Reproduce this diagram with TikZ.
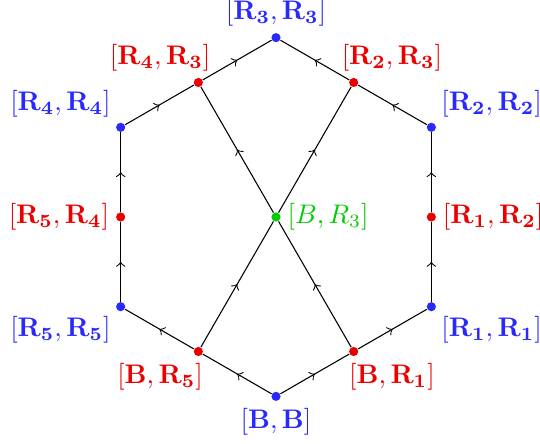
\documentclass[tikz,border=0pt]{standalone}
\usepackage{amsmath}
\usetikzlibrary{decorations.markings}
\definecolor{pblue}{RGB}{40,40,255}
\definecolor{pred}{RGB}{235,0,0}
\definecolor{pgreen}{RGB}{0,205,0}

\begin{document}
\begin{tikzpicture}[
  every label/.style={inner sep=2.2pt},
  dot/.style={circle, fill=#1, inner sep=0pt, minimum size=3.4pt},
  bdot/.style={dot=pblue},
  rdot/.style={dot=pred},
  flow/.style={postaction={decorate},
               decoration={markings, mark=at position 0.5 with {\arrow{>}}}},
]
\useasboundingbox (-3.607, -2.955) rectangle (3.45, 2.836);
% diagonal pairs
\node[bdot, label={[pblue]above:$[\mathbf{R_3},\mathbf{R_3}]$}] (r3r3) at (0, 2.344) {};
\node[bdot, label={[pblue]above left:$[\mathbf{R_4},\mathbf{R_4}]$}] (r4r4) at (-2.03, 1.172) {};
\node[bdot, label={[pblue]above right:$[\mathbf{R_2},\mathbf{R_2}]$}] (r2r2) at (2.03, 1.172) {};
\node[bdot, label={[pblue]below left:$[\mathbf{R_5},\mathbf{R_5}]$}] (r5r5) at (-2.03, -1.172) {};
\node[bdot, label={[pblue]below right:$[\mathbf{R_1},\mathbf{R_1}]$}] (r1r1) at (2.03, -1.172) {};
\node[bdot, label={[pblue]below:$[\mathbf{B},\mathbf{B}]$}] (bb) at (0, -2.344) {};
% mixed pairs
\node[rdot, label={[pred, xshift=-5mm]above:$[\mathbf{R_4},\mathbf{R_3}]$}] (r4r3) at (-1.015, 1.758) {};
\node[rdot, label={[pred, xshift=5mm]above:$[\mathbf{R_2},\mathbf{R_3}]$}] (r2r3) at (1.015, 1.758) {};
\node[rdot, label={[pred]left:$[\mathbf{R_5},\mathbf{R_4}]$}] (r5r4) at (-2.03, 0) {};
\node[rdot, label={[pred]right:$[\mathbf{R_1},\mathbf{R_2}]$}] (r1r2) at (2.03, 0) {};
\node[rdot, label={[pred, xshift=-5mm]below:$[\mathbf{B},\mathbf{R_5}]$}] (br5) at (-1.015, -1.758) {};
\node[rdot, label={[pred, xshift=5mm]below:$[\mathbf{B},\mathbf{R_1}]$}] (br1) at (1.015, -1.758) {};
% crossing point
\node[dot=pgreen, label={[pgreen]right:$[B,R_3]$}] (br3) at (0, 0) {};
% hexagon
\draw[flow] (bb) -- (br1);
\draw[flow] (br1) -- (r1r1);
\draw[flow] (r1r1) -- (r1r2);
\draw[flow] (r1r2) -- (r2r2);
\draw[flow] (r2r2) -- (r2r3);
\draw[flow] (r2r3) -- (r3r3);
\draw[flow] (bb) -- (br5);
\draw[flow] (br5) -- (r5r5);
\draw[flow] (r5r5) -- (r5r4);
\draw[flow] (r5r4) -- (r4r4);
\draw[flow] (r4r4) -- (r4r3);
\draw[flow] (r4r3) -- (r3r3);
% the cross
\draw[flow] (br5) -- (br3);
\draw[flow] (br3) -- (r2r3);
\draw[flow] (br1) -- (br3);
\draw[flow] (br3) -- (r4r3);
\end{tikzpicture}
\end{document}
